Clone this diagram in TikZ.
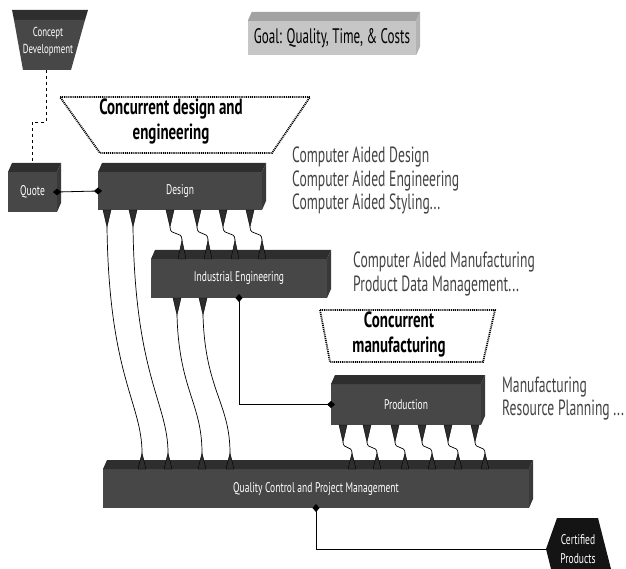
\documentclass[tikz,border=0pt]{standalone}
\usepackage{fontspec}
\usepackage{tikz}
\usetikzlibrary{arrows.meta}
\newfontfamily\condfont{PT Sans}[FakeStretch=0.68]
\newfontfamily\notefont{PT Sans}[FakeStretch=0.62]
\definecolor{slabfront}{HTML}{474747}
\definecolor{slabtop}{HTML}{2E2E2E}
\definecolor{slabside}{HTML}{393939}
\definecolor{goalfront}{HTML}{C6C6C6}
\definecolor{goaltop}{HTML}{A2A2A2}
\definecolor{goalside}{HTML}{B3B3B3}
\definecolor{notegray}{HTML}{444444}
\definecolor{certblack}{HTML}{141414}
\tikzset{>=latex,
  diam/.tip={Diamond[length=8pt,width=7pt]},
  slabbox/.style={fill=slabfront, text=white, inner sep=0pt, outer sep=0pt,
    font=\condfont\fontsize{14}{15}\selectfont},
  plugtip/.style={fill=slabtop, draw=black, line width=0.4pt},
  wireline/.style={draw=black, line width=0.7pt},
  joint/.style={draw=black, line width=0.8pt},
  dotframe/.style={draw=black, line width=1.8pt, dash pattern=on 1pt off 0.9pt},
  headtext/.style={align=center, inner sep=0pt, font=\condfont\bfseries\fontsize{22}{25}\selectfont},
  notetext/.style={anchor=base west, inner sep=0pt, text=notegray,
    font=\notefont\fontsize{22}{24}\selectfont}
}

\begin{document}
\begin{tikzpicture}[x=1pt,y=-1pt]
    \useasboundingbox (0,0) rectangle (626,569);
    \fill[slabtop] (12,10) -- (88,10) -- (85,20) -- (14,20) -- cycle;
    \fill[slabfront] (14,20) -- (85,20) -- (71,70) -- (23,70) -- cycle;
    \node[text=white, align=center, inner sep=0pt, font=\condfont\fontsize{13}{17}\selectfont] (concept) at (48,42) {Concept\\Development};
    \coordinate (conceptfoot) at (46,70);

    \node[fill=goalfront, inner sep=0pt, minimum width=168pt, minimum height=34pt,
        font=\notefont\fontsize{21}{22}\selectfont] (goal) at (332,38) {Goal: Quality, Time, \& Costs};
    \fill[goaltop] (goal.north west) -- ++(4,-9) -- ([shift={(4,-9)}]goal.north east) -- (goal.north east) -- cycle;
    \fill[goalside] (goal.north east) -- ++(4,-9) -- ([shift={(4,-9)}]goal.south east) -- (goal.south east) -- cycle;

    \node[slabbox, minimum width=49pt, minimum height=40pt] (quote) at (32.5,192) {Quote};
    \node[slabbox, minimum width=164pt, minimum height=38pt] (design) at (180,191) {Design};
    \node[slabbox, minimum width=176pt, minimum height=39pt] (ie) at (239,278.5) {Industrial Engineering};
    \node[slabbox, minimum width=150pt, minimum height=41pt] (prod) at (406,404.5) {Production};
    \node[slabbox, minimum width=426pt, minimum height=39pt] (qc) at (316,488.5) {Quality Control and Project Management};
    \foreach \n in {quote,design,ie,prod,qc} {
        \fill[slabtop] (\n.north west) -- ++(4,-9) -- ([shift={(4,-9)}]\n.north east) -- (\n.north east) -- cycle;
        \fill[slabside] (\n.north east) -- ++(4,-9) -- ([shift={(4,-9)}]\n.south east) -- (\n.south east) -- cycle;
    }

    \draw[dotframe] (60,97) -- (310,97) -- (272,153) -- (100,153) -- cycle;
    \node[headtext] (cde) at (171,121) {Concurrent design and\\engineering};
    \draw[dotframe] (320,310) -- (495,310) -- (483,362) -- (330,362) -- cycle;
    \node[headtext] (cm) at (399,334) {Concurrent\\manufacturing};

    \node[notetext] (cad) at (292,163) {Computer Aided Design};
    \node[notetext] (cae) at (292,187) {Computer Aided Engineering};
    \node[notetext] (cas) at (292,210) {Computer Aided Styling...};
    \node[notetext] (cam) at (353,268) {Computer Aided Manufacturing};
    \node[notetext] (pdm) at (353,291) {Product Data Management...};
    \node[notetext] (mfg) at (502,392) {Manufacturing};
    \node[notetext] (mrp) at (502,415) {Resource Planning ...};

    \fill[certblack] (557,518) -- (598,518) -- (611,569) -- (551,569) -- (546,549) -- cycle;
    \node[text=white, align=center, inner sep=0pt, font=\condfont\fontsize{14}{19}\selectfont] (cert) at (578,549) {Certified\\Products};
    \coordinate (certin) at (546,549);

    \foreach \x [count=\i] in {107,133,170,197,223,250} {
        \filldraw[plugtip] (\x-4,210) -- (\x+4,210) -- (\x,227) -- cycle;
        \coordinate (dt\i) at (\x,227);
    }
    \foreach \x [count=\i] in {182,208,235,262} {
        \filldraw[plugtip] (\x-4,259) -- (\x+4,259) -- (\x,240) -- cycle;
        \coordinate (it\i) at (\x,240);
    }
    \foreach \x [count=\i] in {177,203} {
        \filldraw[plugtip] (\x-4,298) -- (\x+4,298) -- (\x,315) -- cycle;
        \coordinate (ib\i) at (\x,315);
    }
    \foreach \x [count=\i] in {343,367,395,422,448,475} {
        \filldraw[plugtip] (\x-4,425) -- (\x+4,425) -- (\x,442) -- cycle;
        \coordinate (pb\i) at (\x,442);
    }
    \foreach \x [count=\i] in {142,168,202,230,352,377,405,432,458,485} {
        \filldraw[plugtip] (\x-4,469) -- (\x+4,469) -- (\x,453) -- cycle;
        \coordinate (qt\i) at (\x,453);
    }

    \foreach \i/\j in {3/1,4/2,5/3,6/4}
        \draw[wireline] (dt\i) .. controls +(0,10) and +(0,-10) .. (it\j);
    \draw[wireline] (dt1) .. controls +(2,150) and +(0,-50) .. (qt1);
    \draw[wireline] (dt2) .. controls +(2,150) and +(0,-50) .. (qt2);
    \draw[wireline] (ib1) .. controls +(2,75) and +(0,-50) .. (qt3);
    \draw[wireline] (ib2) .. controls +(2,75) and +(0,-50) .. (qt4);
    \foreach \i/\j in {1/5,2/6,3/7,4/8,5/9,6/10}
        \draw[wireline] (pb\i) .. controls +(0,8) and +(0,-8) .. (qt\j);

    \draw[dashed, line width=0.6pt] (conceptfoot) -- ++(0,52) -| ([yshift=9pt]quote.north);
    \draw[joint, diam-diam, shorten <=-4pt, shorten >=-4pt] (quote.east) -- (design.west);
    \draw[joint, diam-diam, shorten <=-4pt, shorten >=-4pt] (ie.south) |- (prod.west);
    \draw[joint, diam-, shorten <=-4pt] (qc.south) |- (certin);
\end{tikzpicture}
\end{document}
